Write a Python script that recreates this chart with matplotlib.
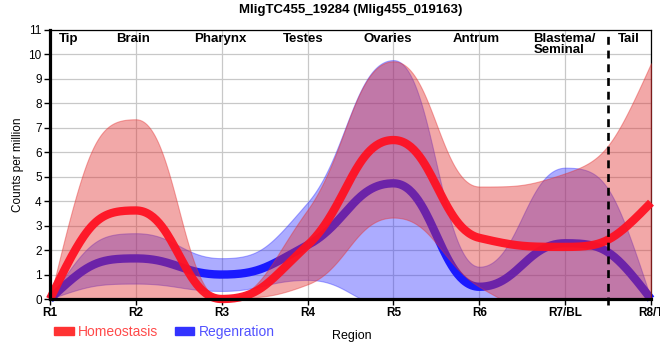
import numpy as np
import matplotlib
matplotlib.use("Agg")
import matplotlib.pyplot as plt
from matplotlib.patches import Patch

plt.rcParams["font.family"] = ["Liberation Sans", "DejaVu Sans"]

# ---------------------------------------------------------------------------
# Data
# ---------------------------------------------------------------------------
regions = ["R1", "R2", "R3", "R4", "R5", "R6", "R7/BL", "R8/T"]
tissues = ["Tip", "Brain", "Pharynx", "Testes", "Ovaries", "Antrum",
           "Blastema/\nSeminal", "Tail"]
tissue_x = [0.22, 0.97, 1.98, 2.95, 3.93, 4.97, 5.63, 6.74]

homeo_mean = [0.0, 3.62, 0.0, 2.20, 6.50, 2.50, 2.13, 3.94]
homeo_hi = [0.0, 7.35, 0.0, 3.65, 9.72, 4.60, 5.14, 9.64]
homeo_lo = [0.0, -0.10, 0.0, 0.60, 3.33, 0.50, -0.90, -1.76]

regen_mean = [0.0, 1.66, 1.00, 2.20, 4.73, 0.50, 2.28, 0.0]
regen_hi = [0.0, 2.69, 1.67, 3.95, 9.77, 1.32, 5.37, 0.0]
regen_lo = [0.0, 0.63, 0.33, 0.78, -0.31, -0.32, -0.81, 0.0]

RED = "#ff1122"
BLUE = "#1a1aff"


# ---------------------------------------------------------------------------
# Smooth curve through points (flat at extrema, no overshoot)
# ---------------------------------------------------------------------------
def smooth(ys, c=0.45, n=60):
    ys = np.asarray(ys, dtype=float)
    xs = np.arange(len(ys), dtype=float)
    m = np.zeros(len(ys))
    for i in range(1, len(ys) - 1):
        d0, d1 = ys[i] - ys[i - 1], ys[i + 1] - ys[i]
        if d0 * d1 <= 0:
            continue
        s = (ys[i + 1] - ys[i - 1]) / 2
        lim = min(abs(d0), abs(d1)) / c
        m[i] = np.sign(s) * min(abs(s), lim)
    for i, j in ((0, 1), (len(ys) - 1, len(ys) - 2)):
        sec = (ys[j] - ys[i]) * (1 if j > i else -1)
        v = 2 * sec - m[j]
        if v * sec <= 0:
            v = 0.0
        m[i] = np.sign(v) * min(abs(v), abs(sec) / c)

    s = np.linspace(0, 1, n)
    b0, b1, b2, b3 = (1 - s) ** 3, 3 * s * (1 - s) ** 2, 3 * s ** 2 * (1 - s), s ** 3
    out_x, out_y = [], []
    for i in range(len(ys) - 1):
        x0, x1 = xs[i], xs[i + 1]
        y0, y1 = ys[i], ys[i + 1]
        px = b0 * x0 + b1 * (x0 + c) + b2 * (x1 - c) + b3 * x1
        py = b0 * y0 + b1 * (y0 + c * m[i]) + b2 * (y1 - c * m[i + 1]) + b3 * y1
        out_x.append(px if i == 0 else px[1:])
        out_y.append(py if i == 0 else py[1:])
    return np.concatenate(out_x), np.concatenate(out_y)


fig = plt.figure(figsize=(6.6, 3.6), dpi=100)
ax = fig.add_axes([50 / 660, 1 - 299 / 360, 601 / 660, 269 / 360])

# grid
ax.set_axisbelow(True)
ax.grid(True, color="#c8c8c8", lw=0.9)

# regeneration first; the homeostasis band is laid over its line
x, lo = smooth(regen_lo)
_, hi = smooth(regen_hi)
ax.fill_between(x, lo, hi, color="#3030ff", alpha=0.40, lw=0.8,
                edgecolor=(0.2, 0.2, 1.0, 0.5), zorder=1)
x, y = smooth(regen_mean)
ax.plot(x, y, color=BLUE, lw=6, solid_capstyle="butt", clip_on=False, zorder=2)

x, lo = smooth(homeo_lo)
_, hi = smooth(homeo_hi)
ax.fill_between(x, lo, hi, color="#e03030", alpha=0.42, lw=0.8,
                edgecolor=(0.9, 0.2, 0.2, 0.5), zorder=3)
x, y = smooth(homeo_mean)
ax.plot(x, y, color=RED, lw=6, alpha=0.95, solid_capstyle="butt",
        clip_on=False, zorder=4)

# tail boundary
ax.plot([6.5, 6.5], [-0.25, 11], color="black", lw=1.9, dashes=(3, 2.2),
        clip_on=False, zorder=5)

for tx, name in zip(tissue_x, tissues):
    ha = "left" if "/" in name else "center"
    ax.text(tx, 10.88, name, ha=ha, va="top", fontsize=9.5, fontweight="bold",
            linespacing=0.95, zorder=6)

ax.set_xlim(0, 7)
ax.set_ylim(0, 11)
ax.set_xticks(range(len(regions)))
ax.set_xticklabels(regions, fontsize=8.5, fontweight="bold")
ax.set_yticks(range(12))
ax.tick_params(axis="y", labelsize=8.5, length=4, width=1, pad=2)
ax.tick_params(axis="x", length=4, width=1, pad=2)

for side in ("left", "bottom"):
    ax.spines[side].set_linewidth(2.3)
    ax.spines[side].set_zorder(7)
for side in ("top", "right"):
    ax.spines[side].set_linewidth(0.9)

ax.set_ylabel("Counts per million", fontsize=8.5, labelpad=3)
ax.set_xlabel("Region", fontsize=9, labelpad=2)
ax.xaxis.set_label_coords(0.503, -0.115)

ax.set_title("MligTC455_19284 (Mlig455_019163)", fontsize=9.5,
             fontweight="bold", pad=12)

handles = [Patch(color="#ff3333"), Patch(color="#3333ff")]
ax.legend(handles, ["Homeostasis", "Regenration"], loc="upper left",
          bbox_to_anchor=(-0.002, -0.075), ncol=2, frameon=False,
          handlelength=1.4, handleheight=0.55, handletextpad=0.3,
          columnspacing=1.2, fontsize=10,
          labelcolor=["#ff4a4a", "#5252ff"], borderaxespad=0)

fig.savefig("out.png", dpi=100)
